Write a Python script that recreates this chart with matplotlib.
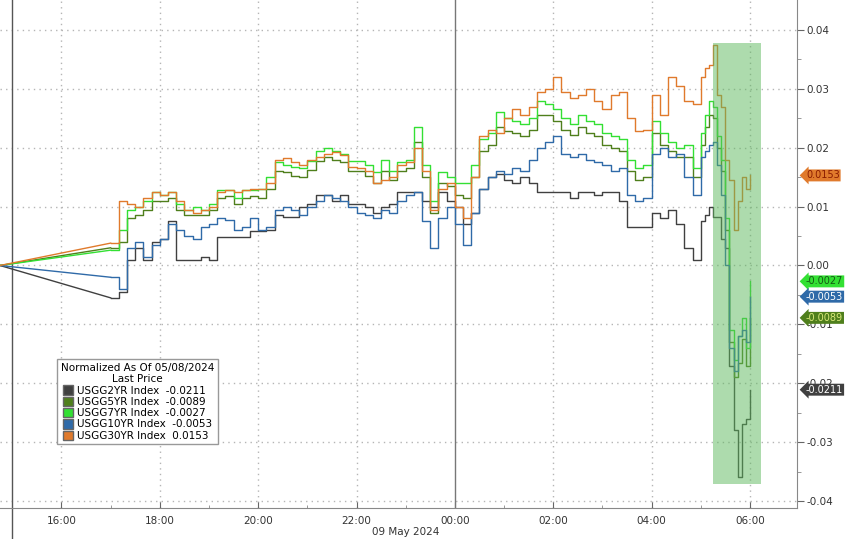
import numpy as np
import matplotlib.pyplot as plt
from matplotlib.patches import Patch, Rectangle
from matplotlib.transforms import blended_transform_factory

# time axis in hours, 24 = 00:00 on 09 May
times = ([14.75] + [17 + i / 6 for i in range(73)] + [29 + k / 12 for k in range(1, 13)])

names = ['USGG2YR Index', 'USGG5YR Index', 'USGG7YR Index', 'USGG10YR Index', 'USGG30YR Index']
last_vals = [-0.0211, -0.0089, -0.0027, -0.0053, 0.0153]
colors = ['#404040', '#4f7f1c', '#33e033', '#2f6aa8', '#e07a2c']

usgg2 = [0.0,
         -0.0055, -0.0045, 0.0010, 0.0030, 0.0010, 0.0040, 0.0045, 0.0075, 0.0010, 0.0010,
         0.0010, 0.0015, 0.0010, 0.0048, 0.0048, 0.0048, 0.0048, 0.0058, 0.0058, 0.0060,
         0.0085, 0.0082, 0.0082, 0.0100, 0.0105, 0.0120, 0.0120, 0.0110, 0.0120, 0.0105,
         0.0105, 0.0100, 0.0090, 0.0100, 0.0105, 0.0125, 0.0125, 0.0125, 0.0110, 0.0100,
         0.0125, 0.0110, 0.0100, 0.0070, 0.0090, 0.0130, 0.0150, 0.0155, 0.0145, 0.0140,
         0.0150, 0.0140, 0.0125, 0.0125, 0.0125, 0.0125, 0.0115, 0.0125, 0.0125, 0.0120,
         0.0125, 0.0125, 0.0110, 0.0065, 0.0065, 0.0065, 0.0090, 0.0080, 0.0095, 0.0070,
         0.0030, 0.0010, 0.0075,
         0.0085, 0.0100, 0.0082, 0.0082, 0.0045, 0.0030, -0.0170, -0.0280, -0.0360, -0.0270,
         -0.0260, -0.0211]

usgg5 = [0.0,
         0.0030, 0.0040, 0.0080, 0.0085, 0.0095, 0.0110, 0.0110, 0.0115, 0.0095, 0.0085,
         0.0085, 0.0085, 0.0095, 0.0115, 0.0118, 0.0105, 0.0115, 0.0118, 0.0115, 0.0130,
         0.0160, 0.0158, 0.0152, 0.0150, 0.0162, 0.0178, 0.0185, 0.0180, 0.0175, 0.0160,
         0.0160, 0.0152, 0.0140, 0.0160, 0.0145, 0.0160, 0.0165, 0.0210, 0.0150, 0.0090,
         0.0140, 0.0135, 0.0120, 0.0115, 0.0150, 0.0195, 0.0205, 0.0235, 0.0228, 0.0225,
         0.0220, 0.0230, 0.0255, 0.0255, 0.0245, 0.0230, 0.0222, 0.0235, 0.0225, 0.0220,
         0.0205, 0.0200, 0.0195, 0.0160, 0.0145, 0.0150, 0.0225, 0.0205, 0.0195, 0.0185,
         0.0185, 0.0150, 0.0205,
         0.0235, 0.0255, 0.0250, 0.0200, 0.0160, 0.0060, -0.0130, -0.0190, -0.0165, -0.0125,
         -0.0170, -0.0089]

usgg7 = [0.0,
         0.0026, 0.0060, 0.0095, 0.0100, 0.0110, 0.0125, 0.0120, 0.0125, 0.0105, 0.0095,
         0.0100, 0.0095, 0.0105, 0.0128, 0.0128, 0.0115, 0.0128, 0.0128, 0.0130, 0.0150,
         0.0175, 0.0170, 0.0168, 0.0165, 0.0178, 0.0195, 0.0200, 0.0195, 0.0190, 0.0178,
         0.0178, 0.0170, 0.0158, 0.0180, 0.0160, 0.0175, 0.0180, 0.0235, 0.0170, 0.0110,
         0.0158, 0.0150, 0.0140, 0.0140, 0.0170, 0.0215, 0.0225, 0.0260, 0.0250, 0.0245,
         0.0240, 0.0250, 0.0280, 0.0275, 0.0265, 0.0250, 0.0240, 0.0255, 0.0245, 0.0240,
         0.0225, 0.0220, 0.0215, 0.0180, 0.0165, 0.0170, 0.0245, 0.0225, 0.0210, 0.0200,
         0.0205, 0.0165, 0.0225,
         0.0255, 0.0280, 0.0270, 0.0220, 0.0180, 0.0080, -0.0110, -0.0160, -0.0120, -0.0090,
         -0.0140, -0.0027]

usgg10 = [0.0,
          -0.0020, -0.0040, 0.0030, 0.0040, 0.0015, 0.0035, 0.0045, 0.0070, 0.0060, 0.0050,
          0.0045, 0.0065, 0.0070, 0.0080, 0.0078, 0.0060, 0.0065, 0.0080, 0.0060, 0.0065,
          0.0095, 0.0100, 0.0095, 0.0085, 0.0100, 0.0110, 0.0120, 0.0115, 0.0110, 0.0100,
          0.0090, 0.0085, 0.0080, 0.0095, 0.0090, 0.0110, 0.0120, 0.0125, 0.0075, 0.0030,
          0.0080, 0.0100, 0.0070, 0.0035, 0.0090, 0.0130, 0.0150, 0.0160, 0.0155, 0.0165,
          0.0160, 0.0180, 0.0200, 0.0210, 0.0220, 0.0190, 0.0185, 0.0190, 0.0180, 0.0175,
          0.0170, 0.0160, 0.0165, 0.0120, 0.0110, 0.0115, 0.0190, 0.0200, 0.0185, 0.0190,
          0.0150, 0.0120, 0.0185,
          0.0195, 0.0205, 0.0210, 0.0170, 0.0120, 0.0000, -0.0140, -0.0180, -0.0120, -0.0110,
          -0.0130, -0.0053]

usgg30 = [0.0,
          0.0038, 0.0110, 0.0105, 0.0100, 0.0115, 0.0125, 0.0120, 0.0125, 0.0110, 0.0095,
          0.0090, 0.0095, 0.0100, 0.0125, 0.0128, 0.0125, 0.0128, 0.0130, 0.0130, 0.0140,
          0.0180, 0.0182, 0.0175, 0.0170, 0.0180, 0.0185, 0.0190, 0.0192, 0.0188, 0.0168,
          0.0165, 0.0160, 0.0140, 0.0145, 0.0150, 0.0170, 0.0175, 0.0200, 0.0160, 0.0095,
          0.0130, 0.0140, 0.0100, 0.0080, 0.0150, 0.0220, 0.0230, 0.0225, 0.0250, 0.0265,
          0.0255, 0.0270, 0.0295, 0.0300, 0.0320, 0.0295, 0.0285, 0.0290, 0.0300, 0.0280,
          0.0265, 0.0290, 0.0295, 0.0250, 0.0228, 0.0230, 0.0290, 0.0255, 0.0320, 0.0305,
          0.0280, 0.0275, 0.0320,
          0.0335, 0.0340, 0.0375, 0.0290, 0.0270, 0.0180, 0.0145, 0.0060, 0.0110, 0.0150,
          0.0130, 0.0153]

series = [usgg2, usgg5, usgg7, usgg10, usgg30]

xtick_pos = [16, 18, 20, 22, 24, 26, 28, 30]
xtick_labels = ['16:00', '18:00', '20:00', '22:00', '00:00', '02:00', '04:00', '06:00']
ytick_pos = [-0.04, -0.03, -0.02, -0.01, 0.0, 0.01, 0.02, 0.03, 0.04]

tag_text = ['white', '#d8e87a', '#145a14', 'white', '#8a1c00']

fig = plt.figure(figsize=(8.48, 5.39), dpi=100)
ax = fig.add_axes([0, 0.0575, 0.940, 0.9425])
ax.set_xlim(14.75, 30.96)
ax.set_ylim(-0.0412, 0.0451)

t = np.array(times)
for vals, c in zip(series, colors):
    v = np.array(vals)
    ax.plot(t[:2], v[:2], color=c, lw=1.0, zorder=3)
    ax.plot(t[1:], v[1:], color=c, lw=1.0, drawstyle='steps-post', zorder=3)

# highlighted sell-off window
ax.add_patch(Rectangle((29.24, -0.0371), 0.98, 0.0749, facecolor='#5cb85c',
                       alpha=0.5, edgecolor='none', zorder=5))

# grid
for yv in ytick_pos:
    ax.axhline(yv, color='#b5b5b5', lw=1, ls=(0, (1, 3)), zorder=1)
for xv in xtick_pos:
    if xv != 24:
        ax.axvline(xv, color='#b5b5b5', lw=1, ls=(0, (1, 3)), zorder=1)
ax.axvline(24, color='#777777', lw=1, zorder=2)
ax.axvline(15, ymin=-0.07, ymax=1, color='#555555', lw=1, clip_on=False, zorder=2)

for s in ['top', 'left']:
    ax.spines[s].set_visible(False)
for s in ['right', 'bottom']:
    ax.spines[s].set_color('#888888')

ax.yaxis.tick_right()
ax.set_yticks(ytick_pos)
ax.set_yticklabels([f'{v:.2f}' for v in ytick_pos])
ax.set_yticks(np.arange(-0.035, 0.045, 0.01), minor=True)
ax.tick_params(axis='y', which='major', length=5, colors='#666666', labelcolor='#333333',
               labelsize=7.5, pad=2)
ax.tick_params(axis='y', which='minor', length=3, colors='#888888')

ax.set_xticks(xtick_pos)
ax.set_xticklabels(xtick_labels)
ax.set_xticks(np.arange(15, 31, 1), minor=True)
ax.tick_params(axis='x', which='major', direction='in', length=4, colors='#666666',
               labelcolor='#333333', labelsize=7.5, pad=6)
ax.tick_params(axis='x', which='minor', direction='in', length=2, colors='#888888')

ax.text(23, -0.047, '09 May 2024', transform=blended_transform_factory(ax.transData, ax.transAxes),
        ha='center', va='center', fontsize=7.5, color='#333333')

# last value tags on right axis
tr = blended_transform_factory(ax.transAxes, ax.transData)
for val, c, tc in zip(last_vals, colors, tag_text):
    ax.text(1.011, val, f'{val:.4f}', transform=tr, ha='left', va='center', fontsize=7,
            color=tc, clip_on=False, zorder=10,
            bbox=dict(boxstyle='larrow,pad=0.1', facecolor=c, edgecolor='none'))

handles = [Patch(facecolor=c, edgecolor='#666666') for c in colors]
labels = [f'{n}  {v:.4f}' for n, v in zip(names, last_vals)]
leg = ax.legend(handles, labels, title='Normalized As Of 05/08/2024\nLast Price',
                loc='lower left', bbox_to_anchor=(0.065, 0.115), fontsize=7.5, title_fontsize=7.5,
                frameon=True, fancybox=False, edgecolor='#999999', framealpha=1,
                handlelength=1.0, handleheight=1.0, borderpad=0.35, labelspacing=0.1,
                handletextpad=0.3)
leg.get_title().set_multialignment('center')
leg.set_zorder(20)

fig.savefig('out.png', dpi=100)
